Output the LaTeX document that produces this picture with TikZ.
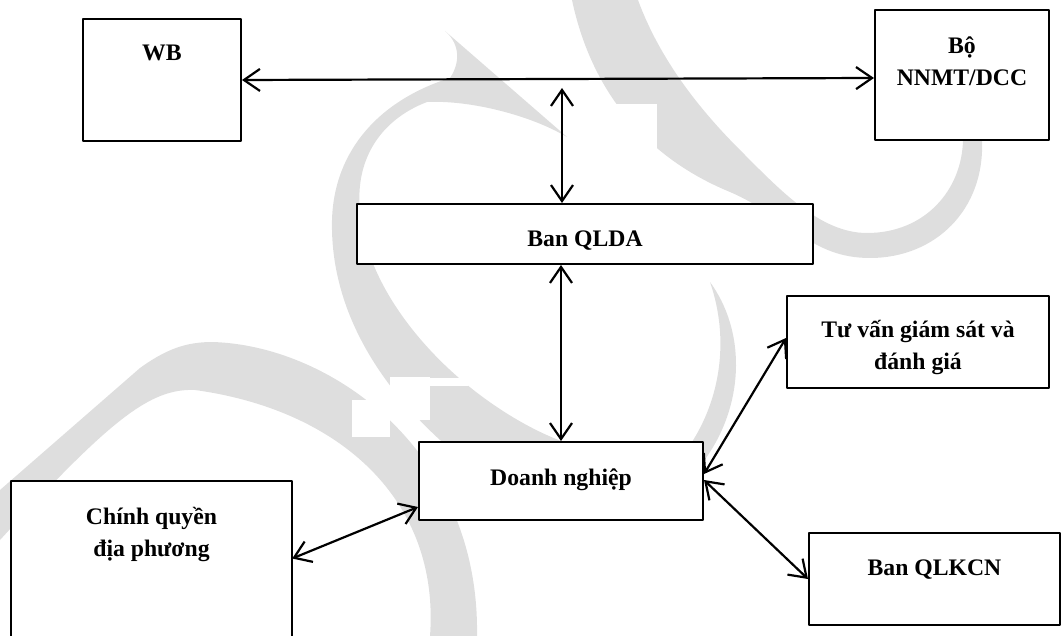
\documentclass[tikz,border=0pt]{standalone}
\usepackage{fontspec}
\setmainfont{Liberation Serif}
\usetikzlibrary{arrows.meta}

\definecolor{wmgray}{RGB}{222,222,222}

\tikzset{
  box/.style={draw, fill=white, line width=2pt, inner sep=0pt},
  openbox/.style={fill=white, inner sep=0pt},
  lbl/.style={anchor=base, align=center, inner sep=0pt,
              font=\fontsize{23.7}{32}\selectfont\bfseries},
  biarrow/.style={line width=2.2pt,
                  {Straight Barb[length=16pt,width=22pt]}-{Straight Barb[length=16pt,width=22pt]}},
  wm/.style={fill=wmgray},
}

\begin{document}
\begin{tikzpicture}[x=1pt, y=-1pt, line cap=round, line join=round]

  \path[use as bounding box] (0,0) rectangle (1062,636);

  %% ==== watermark (background bands) ====
  % loop band, top hook -> left C -> behind enterprise box -> right tail
  \fill[wm] (445,31) -- (567,137)
    .. controls (530,115) and (470,100) .. (427,102)
    .. controls (380,120) and (355,160) .. (360,210)
    .. controls (365,280) and (420,350) .. (480,395)
    .. controls (560,455) and (640,470) .. (690,445)
    .. controls (720,400) and (730,340) .. (710,282)
    .. controls (745,330) and (745,400) .. (708,455)
    .. controls (660,530) and (520,510) .. (440,440)
    .. controls (380,385) and (330,310) .. (332,220)
    .. controls (334,150) and (380,100) .. (450,78)
    .. controls (462,60) and (458,42) .. (445,31) -- cycle;
  % top right crescent
  \fill[wm] (572,0) .. controls (590,85) and (640,155) .. (730,192)
    .. controls (790,218) and (810,258) .. (870,258)
    .. controls (935,258) and (985,210) .. (982,140)
    -- (963,140) .. controls (962,190) and (925,233) .. (867,233)
    .. controls (820,233) and (780,190) .. (740,150)
    .. controls (700,110) and (660,60) .. (638,0) -- cycle;
  % bottom left arc
  \fill[wm] (0,490) -- (140,368)
    .. controls (165,350) and (185,342) .. (212,342)
    .. controls (330,345) and (480,450) .. (477,636)
    -- (430,636) .. controls (440,500) and (340,410) .. (195,390)
    .. controls (150,388) and (110,420) .. (0,540) -- cycle;
  % white cut-outs in the watermark
  \fill[white] (612,104) rectangle (657,162);
  \fill[white] (352,400) rectangle (390,437);
  \fill[white] (390,377) rectangle (430,420);
  \fill[white] (430,378) rectangle (468,386);

  %% ==== boxes ====
  \node[box, minimum width=158pt, minimum height=122pt] (wb)    at (162,80)      {};
  \node[box, minimum width=174pt, minimum height=130pt] (bo)    at (962,75)      {};
  \node[box, minimum width=456pt, minimum height=60pt]  (qlda)  at (585,234)     {};
  \node[box, minimum width=262pt, minimum height=92pt]  (tv)    at (918,342)     {};
  \node[box, minimum width=284pt, minimum height=78pt]  (dn)    at (561,481)     {};
  \node[openbox, minimum width=281pt, minimum height=155pt] (cq) at (151.5,558.5) {};
  \draw[line width=2pt] (cq.south west) -- (cq.north west) -- (cq.north east) -- (cq.south east);
  \node[box, minimum width=251pt, minimum height=92pt]  (qlkcn) at (934.5,579)   {};

  %% ==== labels ====
  % base = baseline of the last line
  \node[lbl] (wb-t)    at ([yshift=-43pt]wb.north)    {WB};
  \node[lbl] (bo-t)    at ([yshift=-77pt]bo.north)    {Bộ\\NNMT/DCC};
  \node[lbl] (qlda-t)  at ([yshift=-44pt]qlda.north)  {Ban QLDA};
  \node[lbl] (tv-t)    at ([yshift=-74pt]tv.north)    {Tư vấn giám sát và\\đánh giá};
  \node[lbl] (dn-t)    at ([yshift=-44pt]dn.north)    {Doanh nghiệp};
  \node[lbl] (cq-t)    at ([yshift=-76pt]cq.north)    {Chính quyền\\địa phương};
  \node[lbl] (qlkcn-t) at ([yshift=-43pt]qlkcn.north) {Ban QLKCN};

  %% ==== connectors ====
  \coordinate (qldaTop) at (562,88);
  \draw[biarrow] (wb.east) -- ([yshift=-3pt]bo.west);
  \draw[biarrow] (qldaTop) -- (qldaTop |- qlda.north);
  \draw[biarrow] (dn.north |- qlda.south) -- (dn.north);
  \draw[biarrow] (cq.east) -- ([yshift=-26pt]dn.west);
  \draw[biarrow] ([yshift=7pt]dn.east) -- ([yshift=4pt]tv.west);
  \draw[biarrow] ([yshift=1pt]dn.east) -- (qlkcn.west);

\end{tikzpicture}
\end{document}
